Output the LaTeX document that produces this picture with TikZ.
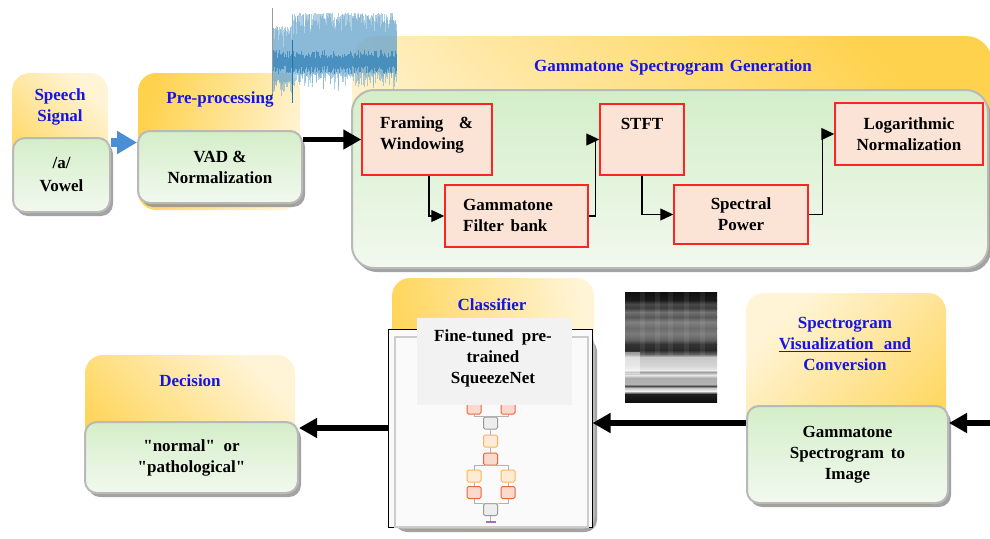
\documentclass[tikz,border=0pt]{standalone}
\usepackage{fontspec}
\setmainfont{Liberation Serif}
\newfontfamily\qfam{Liberation Serif}
\usetikzlibrary{arrows.meta,shadows}
\definecolor{og1}{HTML}{FFD24D}
\definecolor{og2}{HTML}{FFF4D6}
\definecolor{gr1}{HTML}{D4EEC8}
\definecolor{gr2}{HTML}{F2F9EF}
\definecolor{gbord}{HTML}{B9B9B9}
\definecolor{redb}{HTML}{FF2424}
\definecolor{peach}{HTML}{FBE3D6}
\definecolor{ttl}{HTML}{1414E6}
\definecolor{wave}{HTML}{1F77B4}
\definecolor{barrow}{HTML}{4A8FD6}
\definecolor{nlo}{HTML}{F8B45C}
\definecolor{nlof}{HTML}{FEEBD3}
\definecolor{nro}{HTML}{E9653D}
\definecolor{nrof}{HTML}{FBD9CC}
\definecolor{npur}{HTML}{A070C0}
\newcommand{\dq}{{\qfam\bfseries\symbol{34}}}
\begin{document}
\begin{tikzpicture}[x=1pt,y=-1pt,
  orng/.style={draw=none, rounded corners=18pt, inner sep=0pt, outer sep=0pt, top color=og1, bottom color=og2, shading angle=#1},
  grn/.style={draw=gbord, line width=2pt, rounded corners=12pt, inner sep=0pt, top color=gr1, bottom color=gr2, drop shadow={shadow xshift=3pt, shadow yshift=-4pt, fill=black!45, opacity=.8}},
  redbox/.style={draw=redb, line width=1.5pt, fill=peach, inner sep=0pt},
  ttlt/.style={text=ttl, font=\fontsize{17}{21}\selectfont\bfseries, align=center, inner sep=0pt},
  bodyt/.style={font=\fontsize{17}{21}\selectfont\bfseries, align=center, inner sep=0pt},
  conn/.style={line width=1.3pt, -{Triangle[length=13pt,width=12pt]}},
  bigarr/.style={line width=5.5pt, -{Triangle[length=18pt,width=19pt]}},
  bluearr/.style={line width=9pt, draw=barrow, -{Triangle[length=20pt,width=22pt]}},
  netb/.style={rounded corners=1.5pt, minimum width=14pt, minimum height=12pt, line width=1pt, inner sep=0pt},
  nlob/.style={netb, draw=nlo, fill=nlof},
  nrob/.style={netb, draw=nro, fill=nrof},
  ngyb/.style={netb, draw=black!40, fill=black!7},
  netl/.style={draw=black!30, line width=1pt}
]
\clip (0,0) rectangle (990,538);

% orange panels
\node[orng=135, minimum width=96pt, minimum height=139pt] (sso) at (60,142.5) {};
\node[orng=75, minimum width=162pt, minimum height=137pt] (ppo) at (219,141.5) {};
\node[orng=-45, minimum width=640pt, minimum height=232pt, rounded corners=26pt] (gso) at (672,152) {};
\node[orng=100, minimum width=202pt, minimum height=252pt] (clo) at (493,404) {};
\node[orng=225, minimum width=200pt, minimum height=212pt] (svo) at (846,399) {};
\node[orng=135, minimum width=210pt, minimum height=135pt] (deo) at (190,422.5) {};

% waveform
\pgfmathsetseed{42}
\draw[black!40, line width=.8pt] (272,8) -- (272,96);
\foreach \i in {0,...,247}{%
  \pgfmathsetmacro{\wx}{273+\i*0.5}%
  \pgfmathsetmacro{\wt}{ifthenelse(\wx<292,26,13)+22*rnd*rnd}%
  \pgfmathsetmacro{\wb}{ifthenelse(\wx<292,80,72)+22*rnd*rnd}%
  \draw[wave!65, line width=.45pt, opacity=.55] (\wx,\wt) -- (\wx,\wb);
}
\foreach \i in {0,...,123}{%
  \pgfmathsetmacro{\wx}{273+\i}%
  \pgfmathsetmacro{\wt}{50+8*rnd}%
  \pgfmathsetmacro{\wb}{66+8*rnd}%
  \draw[wave, line width=.6pt, opacity=.6] (\wx,\wt) -- (\wx,\wb);
}
\draw[wave, line width=.8pt] (292,40) -- (292,103);

% green panels
\node[grn, bodyt, minimum width=97pt, minimum height=74pt] (ssg) at (61.5,175) {/a/\\[2pt]Vowel};
\node[grn, bodyt, minimum width=164pt, minimum height=72pt] (ppg) at (220,167) {VAD \&\\Normalization};
\node[grn, minimum width=636pt, minimum height=178pt, rounded corners=22pt] (gsg) at (670,179) {};
\node[grn, minimum width=202pt, minimum height=193pt] (clg) at (493,431.5) {};
\node[grn, bodyt, minimum width=201pt, minimum height=97pt] (svg) at (847.5,454.5) {Gammatone\\Spectrogram\hspace{.4em}to\\Image};
\node[grn, bodyt, minimum width=213pt, minimum height=71pt] (deg) at (191.5,457.5) {\dq normal\dq\hspace{.5em}or\\\dq pathological\dq};

% red processing boxes
\node[redbox, minimum width=130pt, minimum height=71pt] (fw) at (427,139.5) {};
\node[redbox, minimum width=143pt, minimum height=62pt] (fb) at (516.5,216) {};
\node[redbox, minimum width=84pt, minimum height=71pt] (st) at (642,139.5) {};
\node[redbox, bodyt, minimum width=134pt, minimum height=59pt] (sp) at (741,214.5) {Spectral\\Power};
\node[redbox, bodyt, minimum width=148pt, minimum height=62pt] (ln) at (909,134) {Logarithmic\\Normalization};
\node[bodyt, align=left, anchor=west] (fwt) at (380,134.5) {Framing\hspace{.9em}\&\\Windowing};
\node[bodyt, align=left, anchor=west] (fbt) at (463,215) {Gammatone\\Filter\hspace{.4em}bank};
\node[bodyt] (stt) at (642,124) {STFT};

% classifier image
\node[draw=black, line width=1pt, fill=black!2, minimum width=204pt, minimum height=198pt, inner sep=0pt] (sqz) at (490,428) {};
\node[draw=black!20, line width=1.5pt, minimum width=193pt, minimum height=190pt, inner sep=0pt] (sqin) at (491.5,432) {};
\node[nrob] (n1) at (474,408) {};
\node[nrob] (n2) at (508,408) {};
\node[ngyb] (n3) at (490.5,423) {};
\node[nlob] (n4) at (490.5,441) {};
\node[nrob] (n5) at (490.5,459) {};
\node[nlob] (n6) at (474,476) {};
\node[nlob] (n7) at (508,476) {};
\node[nrob] (n8) at (474,492.5) {};
\node[nrob] (n9) at (508,492.5) {};
\node[ngyb] (n10) at (490.5,509.5) {};
\coordinate (pur) at (490.5,522);
\draw[netl] (n1.south) |- (n3.north) -| (n2.south);
\draw[netl] (n3) -- (n4);
\draw[netl] (n4) -- (n5);
\draw[netl] (n6.north) |- (n5.south) -| (n7.north);
\draw[netl] (n6) -- (n8);
\draw[netl] (n7) -- (n9);
\draw[netl] (n8.south) |- (n10.north) -| (n9.south);
\draw[netl] (n10.south) -- (pur);
\draw[npur, line width=1.2pt] ([xshift=-5pt]pur) -- ([xshift=5pt]pur);
\node[fill=black!5, minimum width=155pt, minimum height=87pt, inner sep=0pt] (sqt) at (494.5,361.5) {};
\node[bodyt] (sqtt) at (493,358) {Fine-tuned\hspace{.5em}pre-\\trained\\SqueezeNet};

% spectrogram image
\foreach \ya/\ga/\yb/\gb in {292/94/300/90, 300/90/304/72, 304/72/308/76, 308/76/312/56, 312/56/317/66, 317/66/322/50, 322/50/328/58, 328/58/334/52, 334/52/340/62, 340/62/344/80, 344/80/350/84, 350/84/354/62, 354/62/357/22, 357/22/366/16, 366/16/370/8, 370/8/372/38, 372/38/375/10, 375/10/378/32, 378/32/384/30, 384/30/386/70, 386/70/388/22, 388/22/391/5, 391/5/394/88, 394/88/402/94}
  \shade[top color=black!\ga, bottom color=black!\gb] (625,\ya) rectangle (717,\yb);
\foreach \cx in {640,655,668,684,700}
  \fill[white, opacity=.07] (\cx,292) rectangle (\cx+5,356);
\fill[white, opacity=.45] (625,352) rectangle (640,374);

% titles
\node[ttlt] (sst) at (60,106.5) {Speech\\Signal};
\node[ttlt] (ppt) at (220,99) {Pre-processing};
\node[ttlt] (gst) at (673,67) {Gammatone\hspace{.35em}Spectrogram\hspace{.35em}Generation};
\node[ttlt] (clt) at (492,305) {Classifier};
\node[ttlt] (svt) at (845,343.5) {Spectrogram\\\underline{Visualization\hspace{.6em}and}\\Conversion};
\node[ttlt] (det) at (190,381) {Decision};

% connectors
\draw[bluearr] (ssg.east |- sso.center) -- (ppg.west |- sso.center);
\draw[bigarr] (ppg.east |- fw.west) -- (fw.west);
\draw[conn] ([xshift=2pt]fw.south) |- (fb.west);
\draw[conn] (fb.east) -- ++(7,0) |- (st.west);
\draw[conn] (st.south) |- (sp.west);
\draw[conn] (sp.east) -- ++(14,0) |- (ln.west);
\coordinate (rin) at (990,423);
\draw[bigarr] (rin) -- (svg.east |- rin);
\draw[bigarr] (svg.west |- rin) -- (sqz.east |- rin);
\draw[bigarr] (sqz.west) -- (deg.east |- sqz.west);
\end{tikzpicture}
\end{document}
